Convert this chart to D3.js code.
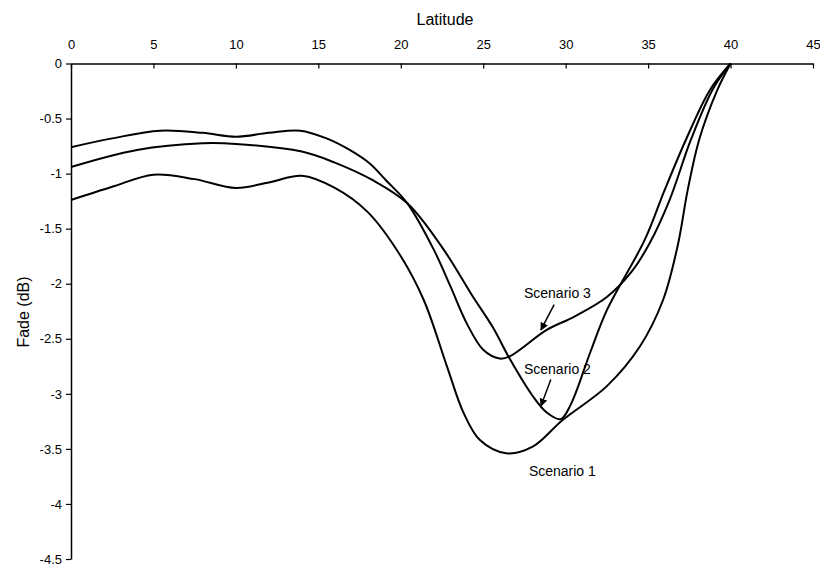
<!DOCTYPE html>
<html><head><meta charset="utf-8">
<script src="https://cdn.jsdelivr.net/npm/d3@7"></script>
<style>
body{margin:0;background:#fff}
svg text{font-family:"Liberation Sans",Arial,Helvetica,sans-serif;fill:#000}
</style>
</head><body>
<svg id="chart" width="820" height="569"></svg>
<script>
// ---- data ----
const xTicks = [0,5,10,15,20,25,30,35,40,45];
const yTicks = [0,-0.5,-1,-1.5,-2,-2.5,-3,-3.5,-4,-4.5];

const scenario1Lat  = [0,2.5,5,7.5,10,12,14,16,18,20,21.4,22.8,23.8,24.8,26.4,28,29.8,32.5,34.5,35.9,36.8,37.4,38.1,39.2,40];
const scenario1Fade = [-1.24,-1.12,-1.01,-1.05,-1.13,-1.08,-1.02,-1.13,-1.35,-1.75,-2.15,-2.75,-3.17,-3.42,-3.54,-3.48,-3.24,-2.93,-2.57,-2.15,-1.65,-1.15,-0.69,-0.24,0];

const scenario2Lat  = [0,4,8,10,14,16,18.3,20.4,22.6,24.3,25.6,26.6,28,28.85,29.7,30.3,31.5,32.5,34.8,36.0,37.3,38.75,40];
const scenario2Fade = [-0.94,-0.785,-0.724,-0.73,-0.80,-0.9,-1.06,-1.27,-1.69,-2.1,-2.4,-2.68,-3.02,-3.17,-3.23,-3.1,-2.62,-2.24,-1.6,-1.15,-0.69,-0.24,0];

const scenario3Lat  = [0,2.5,5.4,8,10,12,13.9,15.5,16.9,18.1,19.1,20.4,22,23,24,25,26,26.6,28.85,30.5,32.5,34,35.1,36.3,37.6,38.9,40];
const scenario3Fade = [-0.76,-0.68,-0.61,-0.63,-0.665,-0.63,-0.61,-0.68,-0.785,-0.906,-1.06,-1.27,-1.69,-2.02,-2.36,-2.6,-2.68,-2.66,-2.42,-2.3,-2.12,-1.89,-1.63,-1.24,-0.69,-0.24,0];

const labelNames = ["Scenario 1","Scenario 2","Scenario 3"];

// ---- chart ----
const svg = d3.select("#chart");
const x = d3.scaleLinear().domain([0,45]).range([71,813]);
const y = d3.scaleLinear().domain([0,-4.5]).range([63.5,559]);
const fmt = d => String(d);

const xAxis = d3.axisTop(x).tickValues(xTicks).tickFormat(fmt).tickSize(-5).tickSizeOuter(0).tickPadding(15);
const yAxis = d3.axisLeft(y).tickValues(yTicks).tickFormat(fmt).tickSize(5).tickSizeOuter(0).tickPadding(4);

const gx = svg.append("g").attr("transform","translate(0,"+y(0)+")").call(xAxis);
const gy = svg.append("g").attr("transform","translate("+x(0)+",0)").call(yAxis);
[gx,gy].forEach(g=>{
  g.selectAll("path.domain").attr("stroke","#000").attr("stroke-width",1.5);
  g.selectAll(".tick line").attr("stroke","#000").attr("stroke-width",1.2);
  g.selectAll("text").style("font-size","13px").attr("fill","#000");
});

svg.append("text").attr("x",445).attr("y",25).attr("text-anchor","middle")
  .style("font-size","16px").text("Latitude");
svg.append("text").attr("transform","translate(29,312) rotate(-90)").attr("text-anchor","middle")
  .style("font-size","16px").text("Fade (dB)");

const line = d3.line().x(d=>x(d[0])).y(d=>y(d[1])).curve(d3.curveCatmullRom.alpha(0.5));
const series = [
  [scenario1Lat, scenario1Fade],
  [scenario2Lat, scenario2Fade],
  [scenario3Lat, scenario3Fade]
];
series.forEach(([la,fa])=>{
  svg.append("path").datum(la.map((v,i)=>[v,fa[i]]))
    .attr("d",line).attr("fill","none").attr("stroke","#000").attr("stroke-width",2);
});

// annotations
const labelPos = [[29.8,-3.70],[29.5,-2.77],[29.5,-2.08]];
labelPos.forEach((p,i)=>{
  svg.append("text").attr("x",x(p[0])).attr("y",y(p[1])+5).attr("text-anchor","middle")
    .style("font-size","14px").text(labelNames[i]);
});

svg.append("defs").append("marker").attr("id","ah").attr("viewBox","0 0 10 10")
  .attr("refX",9).attr("refY",5).attr("markerWidth",8).attr("markerHeight",8)
  .attr("markerUnits","userSpaceOnUse").attr("orient","auto")
  .append("path").attr("d","M0,0L10,5L0,10Z").attr("fill","#000");
const arrows = [[[29.3,-2.19],[28.5,-2.42]],[[29.1,-2.87],[28.5,-3.11]]];
arrows.forEach(a=>{
  svg.append("line").attr("x1",x(a[0][0])).attr("y1",y(a[0][1]))
    .attr("x2",x(a[1][0])).attr("y2",y(a[1][1]))
    .attr("stroke","#000").attr("stroke-width",1.5).attr("marker-end","url(#ah)");
});
</script>
</body></html>
